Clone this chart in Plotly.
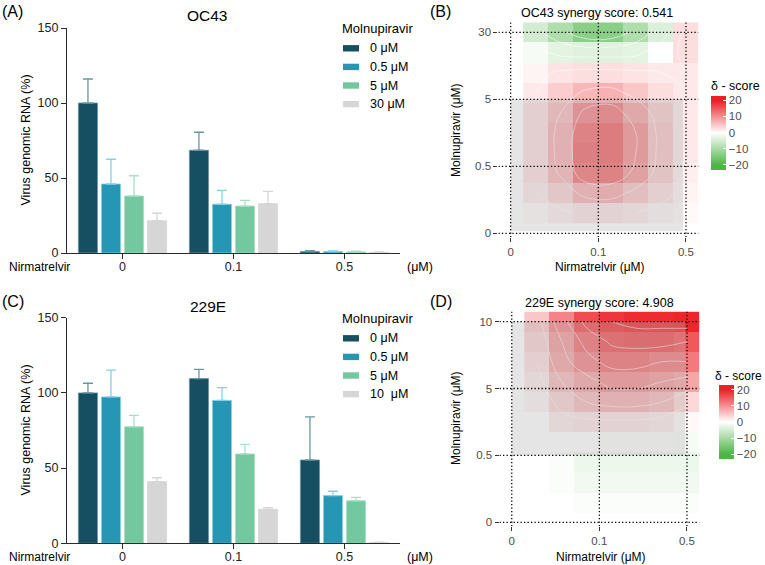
import plotly.graph_objects as go

# ---------------- data ----------------
nirmatrelvir = ["0", "0.1", "0.5"]
oc43_doses = ["0 μM", "0.5 μM", "5 μM", "30 μM"]
e229_doses = ["0 μM", "0.5 μM", "5 μM", "10  μM"]

oc43_mol0 = [100, 68.5, 1.0]
oc43_mol0_err = [16, 12, 0.5]
oc43_mol05 = [46, 32.5, 1.0]
oc43_mol05_err = [16.5, 9.3, 0.4]
oc43_mol5 = [38, 31.3, 0.8]
oc43_mol5_err = [13.5, 3.8, 0.5]
oc43_mol30 = [21.5, 32.9, 0.5]
oc43_mol30_err = [5, 8.2, 0.3]

e229_mol0 = [100, 109.5, 55.4]
e229_mol0_err = [6.4, 6.2, 28.6]
e229_mol05 = [97.3, 95, 31.7]
e229_mol05_err = [17.9, 8.5, 2.9]
e229_mol5 = [77.5, 59.4, 28.3]
e229_mol5_err = [7.5, 6.4, 2.3]
e229_mol10 = [41, 22.6, 0.5]
e229_mol10_err = [2.6, 1.1, 0.3]

bar_ticks = [0, 50, 100, 150]

syn_x_ticks = ["0", "0.1", "0.5"]
syn_y_ticks_oc43 = ["0", "0.5", "5", "30"]
syn_y_ticks_229e = ["0", "0.5", "5", "10"]
score_ticks = [-20, -10, 0, 10, 20]

# delta scores, rows listed from top (highest molnupiravir) to bottom
oc43_delta = [
    [-5, -9, -13, -13, -9, -4, 3],
    [-1, -3, -3.5, -3.5, -3, 0, 3],
    [1, 2.5, 3, 3, 2.5, 2, 2],
    [2, 4.5, 6.5, 7, 5, 3, 2],
    [3, 6, 11, 12, 8, 4.5, 2],
    [3, 7, 13, 14, 10, 5, 2],
    [3, 7, 13.5, 14, 10, 5, 2],
    [3, 6.5, 12.5, 13, 9, 4.5, 1.5],
    [2, 4, 7, 7.5, 5, 3, 1],
    [0.5, 1.5, 2.5, 2.5, 2, 1, 0.5],
]
e229_delta = [
    [5, 11, 16, 18, 19, 19, 19.5],
    [4, 9, 13, 15.5, 16, 16, 15],
    [3, 8, 11, 13, 13, 12, 12],
    [2, 6, 8, 10, 10, 9, 8],
    [1, 4, 6, 7, 7, 6, 3.5],
    [0, 2, 2.5, 2.5, 2.5, 2, 0.5],
    [0, 0, 0, -0.5, -0.5, -0.5, -1],
    [0, -0.5, -2, -2, -2, -2, -2],
    [0, -0.5, -1.5, -1.5, -1.5, -1.5, -1.5],
    [0, 0, -0.5, -0.5, -0.5, -0.5, -0.5],
]
oc43_title = "OC43 synergy score: 0.541"
e229_title = "229E synergy score: 4.908"

# ---------------- styling ----------------
W, H = 765, 565
FONT = "Arial, Liberation Sans, Helvetica, sans-serif"
bar_colors = ["#174f62", "#2597b4", "#73c8a0", "#d6d6d6"]
err_colors = ["#6a96a4", "#85d0e2", "#a8e0c4", "#d6d6d6"]
CLIM = 22.9  # colour bar extends a little beyond +/-20
edge = (CLIM - 20) / (2 * CLIM)
colorscale = [[0, "rgb(77,180,70)"], [edge, "rgb(77,180,70)"], [0.5, "rgb(255,255,255)"],
              [1 - edge, "rgb(236,32,38)"], [1, "rgb(236,32,38)"]]


def px(x):
    return x / W


def py(y):
    return 1 - y / H


fig = go.Figure()

oc43_means = [oc43_mol0, oc43_mol05, oc43_mol5, oc43_mol30]
oc43_errs = [oc43_mol0_err, oc43_mol05_err, oc43_mol5_err, oc43_mol30_err]
e229_means = [e229_mol0, e229_mol05, e229_mol5, e229_mol10]
e229_errs = [e229_mol0_err, e229_mol05_err, e229_mol5_err, e229_mol10_err]

for axn, means, errs, doses in [("", oc43_means, oc43_errs, oc43_doses),
                                ("2", e229_means, e229_errs, e229_doses)]:
    for i in range(4):
        fig.add_trace(go.Bar(
            x=nirmatrelvir, y=means[i], name=doses[i],
            marker=dict(color=bar_colors[i], line=dict(color=err_colors[i], width=0.8)),
            error_y=dict(type="data", symmetric=False, array=errs[i],
                         arrayminus=[0] * len(errs[i]), color=err_colors[i],
                         thickness=1.3, width=5),
            xaxis="x" + axn, yaxis="y" + axn, showlegend=False,
            offsetgroup=str(i),
        ))

# heatmaps
for axn, z, ca, cstart, cend, csize in [("3", oc43_delta, "coloraxis", -10, 12, 4),
                                         ("4", e229_delta, "coloraxis2", 3, 18, 3)]:
    zz = z[::-1]
    fig.add_trace(go.Heatmap(z=zz, x0=2 / 7, dx=2 / 7, y0=0.3, dy=0.3,
                             coloraxis=ca, xaxis="x" + axn, yaxis="y" + axn,
                             hoverinfo="skip", showlegend=False))
    fig.add_trace(go.Contour(z=zz, x0=2 / 7, dx=2 / 7, y0=0.3, dy=0.3,
                             contours=dict(coloring="none", start=cstart, end=cend, size=csize),
                             line=dict(color="rgba(255,255,255,0.55)", width=1, smoothing=1.2),
                             showscale=False, showlegend=False,
                             xaxis="x" + axn, yaxis="y" + axn, hoverinfo="skip"))

bar_x_dom = [px(67), px(400)]
yaxis_bar = dict(range=[0, 150], tickvals=bar_ticks, showline=True, linecolor="#2b2b2b",
                 linewidth=1.3, ticks="outside", ticklen=5, tickwidth=1.3, tickcolor="#2b2b2b",
                 showgrid=False, zeroline=False, tickfont=dict(size=12.5, color="#222"))
xaxis_bar = dict(type="category", range=[-0.5, 2.5], showline=True, linecolor="#2b2b2b",
                 linewidth=1.3, ticks="outside", ticklen=5, tickwidth=1.3, tickcolor="#2b2b2b",
                 showgrid=False, zeroline=False, tickfont=dict(size=12.5, color="#222"),
                 ticklabelstandoff=-3)

syn_x_common = dict(range=[-0.14, 2.143], tickvals=list(range(len(syn_x_ticks))),
                    ticktext=syn_x_ticks, showgrid=False, zeroline=False, showline=False,
                    ticks="outside", ticklen=4, tickcolor="#333", tickwidth=1,
                    tickfont=dict(size=11.5, color="#4d4d4d"))
syn_y_common = dict(range=[-0.06, 3.15], showgrid=False, zeroline=False, showline=False,
                    ticks="outside", ticklen=4, tickcolor="#333", tickwidth=1,
                    tickfont=dict(size=11.5, color="#4d4d4d"))

fig.update_layout(
    width=W, height=H, margin=dict(l=0, r=0, t=0, b=0, autoexpand=False),
    showlegend=False,
    paper_bgcolor="white", plot_bgcolor="rgba(0,0,0,0)",
    font=dict(family=FONT, color="black"),
    barmode="group", bargap=0.17, bargroupgap=0.17,
    xaxis=dict(domain=bar_x_dom, anchor="y", **xaxis_bar),
    yaxis=dict(domain=[py(253), py(28)], anchor="x", **yaxis_bar),
    xaxis2=dict(domain=bar_x_dom, anchor="y2", **xaxis_bar),
    yaxis2=dict(domain=[py(543.3), py(317.7)], anchor="x2", **yaxis_bar),
    xaxis3=dict(domain=[px(498.4), px(698.5)], anchor="y3", **syn_x_common),
    yaxis3=dict(domain=[py(237.3), py(22.3)], anchor="x3",
                tickvals=list(range(len(syn_y_ticks_oc43))), ticktext=syn_y_ticks_oc43,
                **syn_y_common),
    xaxis4=dict(domain=[px(499.5), px(699.5)], anchor="y4", **syn_x_common),
    yaxis4=dict(domain=[py(526.3), py(311.6)], anchor="x4",
                tickvals=list(range(len(syn_y_ticks_229e))), ticktext=syn_y_ticks_229e,
                **syn_y_common),
)

cb_common = dict(thickness=15, thicknessmode="pixels", len=74, lenmode="pixels",
                 xanchor="left", yanchor="middle", xpad=0, ypad=0, outlinewidth=0,
                 tickvals=score_ticks, ticks="inside", tickcolor="white", ticklen=3,
                 tickfont=dict(size=11.5, color="#4d4d4d"))
fig.update_layout(
    coloraxis=dict(cmin=-CLIM, cmax=CLIM, colorscale=colorscale,
                   colorbar=dict(x=px(711), y=py(132.5), **cb_common)),
    coloraxis2=dict(cmin=-CLIM, cmax=CLIM, colorscale=colorscale,
                    colorbar=dict(x=px(719), y=py(422), **cb_common)),
)

shapes = []
# most synergistic area boxes
shapes.append(dict(type="rect", xref="x3", yref="y3", x0=0, x1=1.965, y0=0.03, y1=2.0,
                   fillcolor="rgba(175,175,175,0.33)", line=dict(width=0), layer="above"))
shapes.append(dict(type="rect", xref="x4", yref="y4", x0=0, x1=1.98, y0=1.0, y1=3.0,
                   fillcolor="rgba(175,175,175,0.33)", line=dict(width=0), layer="above"))
# dotted grid lines above the heatmaps
for axn, yt in [("3", syn_y_ticks_oc43), ("4", syn_y_ticks_229e)]:
    for i in range(len(syn_x_ticks)):
        shapes.append(dict(type="line", xref="x" + axn, yref="y" + axn, x0=i, x1=i,
                           y0=-0.06, y1=3.15, layer="above",
                           line=dict(color="black", width=1.3, dash="1.3px,2.2px")))
    for j in range(len(yt)):
        shapes.append(dict(type="line", xref="x" + axn, yref="y" + axn, x0=-0.14, x1=2.143,
                           y0=j, y1=j, layer="above",
                           line=dict(color="black", width=1.3, dash="1.3px,2.2px")))

annotations = []


def ann(text, x, y, size, xanchor="center", angle=0, color="black"):
    annotations.append(dict(text=text, x=px(x), y=py(y), xref="paper", yref="paper",
                            xanchor=xanchor, yanchor="middle", showarrow=False,
                            textangle=angle, font=dict(size=size, color=color, family=FONT)))


# legends (custom swatches)
for top, doses in [(0, oc43_doses), (290, e229_doses)]:
    ann("Molnupiravir", 340, top + 28.5, 13, xanchor="left")
    for i, d in enumerate(doses):
        yc = top + 48.3 + i * 18.6
        shapes.append(dict(type="rect", xref="paper", yref="paper",
                           x0=px(343), x1=px(359), y0=py(yc + 3.2), y1=py(yc - 3.2),
                           fillcolor=bar_colors[i], line=dict(width=0)))
        ann(d, 367.5, yc, 12.5, xanchor="left")

ann("(A)", 0, 12, 16, xanchor="left")
ann("(B)", 428, 12, 16, xanchor="left")
ann("(C)", 0, 301, 16, xanchor="left")
ann("(D)", 428, 301, 16, xanchor="left")
ann("OC43", 208, 15, 15.5)
ann("229E", 208, 306, 15.5)
ann("Virus genomic RNA (%)", 25, 140.5, 12.5, angle=-90)
ann("Virus genomic RNA (%)", 25, 430.5, 12.5, angle=-90)
ann("Nirmatrelvir", 7, 267, 12, xanchor="left")
ann("Nirmatrelvir", 7, 557, 12, xanchor="left")
ann("(μM)", 405, 267, 12.5, xanchor="left")
ann("(μM)", 405, 557, 12.5, xanchor="left")
ann(oc43_title, 597, 12.5, 12.5)
ann(e229_title, 599, 302.5, 12.5)
ann("Nirmatrelvir (μM)", 600, 266.5, 12)
ann("Nirmatrelvir (μM)", 601, 556.5, 12)
ann("Molnupiravir (μM)", 456, 130, 12, angle=-90)
ann("Molnupiravir (μM)", 456, 418, 12, angle=-90)
ann("δ - score", 709, 86, 12.5, xanchor="left")
ann("δ - score", 713, 376, 12, xanchor="left")

fig.update_layout(shapes=shapes, annotations=annotations)
fig.write_html("out.html", config={"displayModeBar": False},
               post_script="document.body.style.margin='0';document.body.style.padding='0';")
